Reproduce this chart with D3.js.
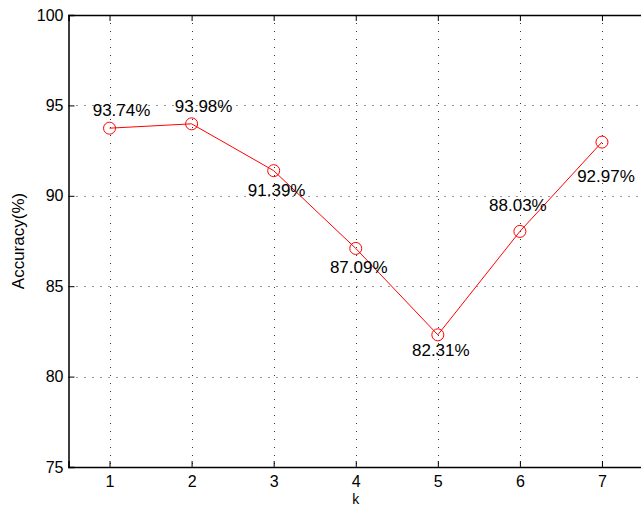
<!DOCTYPE html>
<html lang="en">
<head>
  <meta charset="utf-8" />
  <title>Accuracy vs k</title>
  <script src="https://d3js.org/d3.v7.min.js"></script>
  <style>
    html, body { margin: 0; padding: 0; background: #fff; }
    svg { display: block; font-family: "Liberation Sans", Arial, Helvetica, sans-serif; }
  </style>
</head>
<body>
  <svg id="chart" width="641" height="508"></svg>
  <script>
    // chart data
    const kValues = [1, 2, 3, 4, 5, 6, 7];
    const accuracy = [93.74, 93.98, 91.39, 87.09, 82.31, 88.03, 92.97];
    const yTicks = [75, 80, 85, 90, 95, 100];

    // label placement relative to each marker (pixels)
    const labelDx = [12, 12, 3, 3, 3, -2, 4];
    const labelDy = [-12, -12, 25, 25, 21, -20, 40];

    const svg = d3.select("#chart");
    const plotL = 68.5, plotR = 643, plotT = 15, plotB = 467;

    const x = d3.scaleLinear().domain([0.5, 7.5]).range([plotL, plotR]);
    const y = d3.scaleLinear().domain([75, 100]).range([plotB, plotT]);

    // dotted grid
    const grid = svg.append("g").attr("stroke", "#333").attr("stroke-width", 1)
      .attr("stroke-dasharray", "1,7");
    grid.selectAll(".gx").data(kValues).enter().append("line")
      .attr("x1", d => Math.round(x(d)) + 0.5).attr("x2", d => Math.round(x(d)) + 0.5)
      .attr("y1", plotT).attr("y2", plotB);
    grid.selectAll(".gy").data(yTicks.slice(1, -1)).enter().append("line")
      .attr("y1", d => Math.round(y(d)) + 0.5).attr("y2", d => Math.round(y(d)) + 0.5)
      .attr("x1", plotL).attr("x2", plotR);

    // axes (MATLAB style, ticks inward)
    const xAxis = d3.axisBottom(x).tickValues(kValues).tickFormat(d3.format("d"))
      .tickSize(-6).tickPadding(9);
    const xTop = d3.axisTop(x).tickValues(kValues).tickSize(-6).tickFormat("");
    const yAxis = d3.axisLeft(y).tickValues(yTicks).tickSize(-6).tickPadding(5);

    function style(g) {
      g.select(".domain").attr("stroke", "#000").attr("stroke-width", 1.5);
      g.selectAll(".tick line").attr("stroke", "#000").attr("stroke-width", 1);
      g.selectAll(".tick text").attr("fill", "#000").attr("font-size", 16)
        .attr("font-family", "Liberation Sans, Arial, sans-serif");
    }

    svg.append("g").attr("transform", `translate(0,${plotB})`).call(xAxis).call(style);
    svg.append("g").attr("transform", `translate(0,${plotT})`).call(xTop).call(style);
    svg.append("g").attr("transform", `translate(${plotL},0)`).call(yAxis).call(style);

    // axis labels
    svg.append("text").attr("x", x(4)).attr("y", 504).attr("text-anchor", "middle")
      .attr("font-size", 14).text("k");
    svg.append("text").attr("transform", `translate(24,${(plotT + plotB) / 2}) rotate(-90)`)
      .attr("text-anchor", "middle").attr("font-size", 17).text("Accuracy(%)");

    // line and markers
    const pts = kValues.map((k, i) => [k, accuracy[i]]);
    svg.append("path").datum(pts)
      .attr("fill", "none").attr("stroke", "#ff0000").attr("stroke-width", 1)
      .attr("d", d3.line().x(d => x(d[0])).y(d => y(d[1])));
    svg.selectAll(".mk").data(pts).enter().append("circle")
      .attr("cx", d => x(d[0])).attr("cy", d => y(d[1])).attr("r", 6)
      .attr("fill", "none").attr("stroke", "#ff0000").attr("stroke-width", 1);

    // value labels
    svg.selectAll(".lbl").data(pts).enter().append("text")
      .attr("x", (d, i) => x(d[0]) + labelDx[i])
      .attr("y", (d, i) => y(d[1]) + labelDy[i])
      .attr("text-anchor", "middle").attr("font-size", 17).attr("fill", "#000")
      .text(d => d[1].toFixed(2) + "%");
  </script>
</body>
</html>
